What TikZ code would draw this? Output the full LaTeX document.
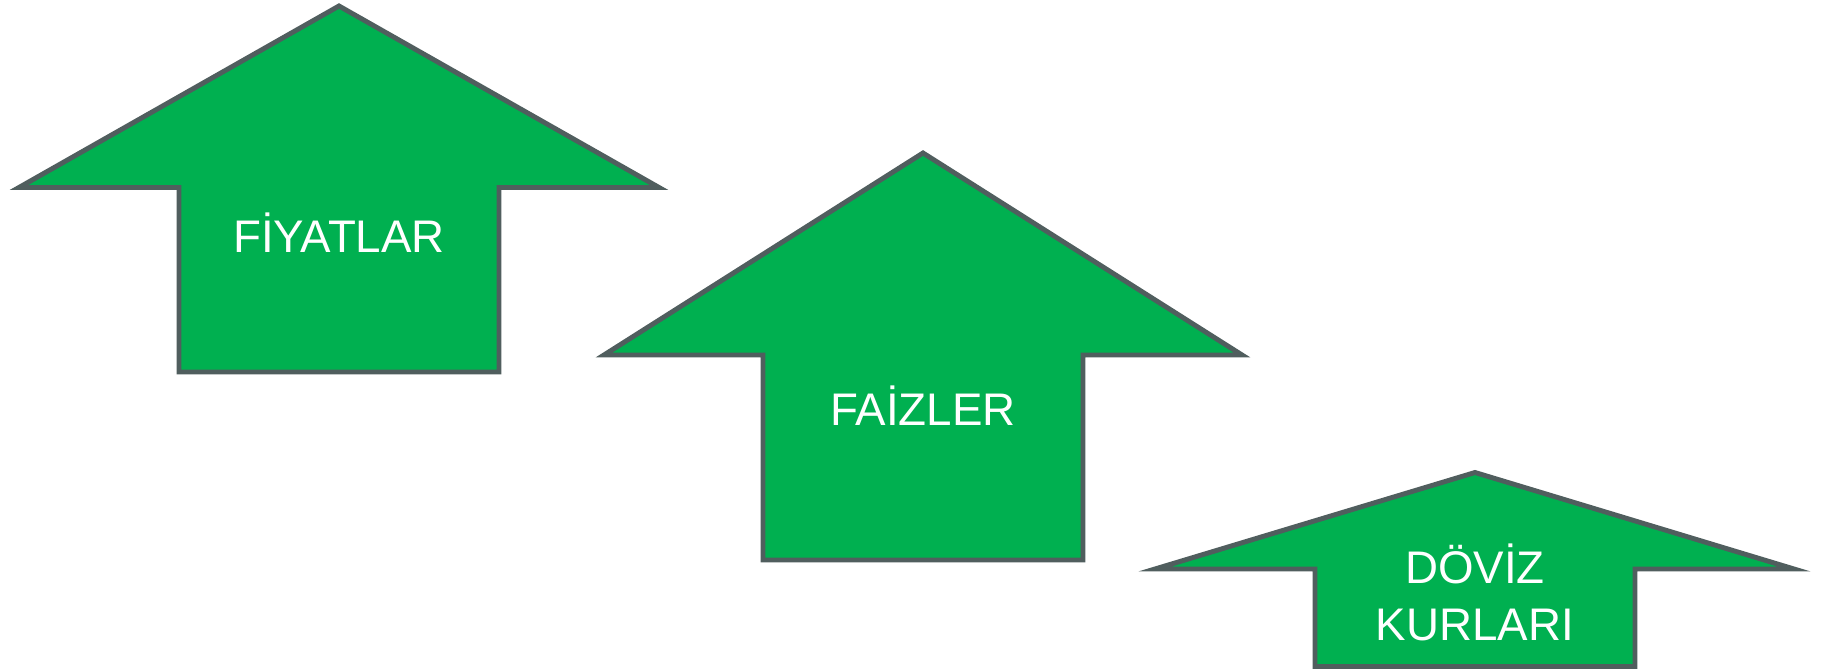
\documentclass[tikz,border=0pt]{standalone}
\usepackage{fontspec}
\setmainfont{Liberation Sans}
\usepackage{tikz}
\usetikzlibrary{positioning}
\definecolor{arrow_green}{RGB}{0, 176, 80}
\definecolor{edge_grey}{RGB}{80, 94, 94}

\begin{document}
\begin{tikzpicture}[x=0.025cm, y=-0.025cm,
      uparrow/.style={draw=edge_grey, line width=3.5pt, fill=arrow_green, line join=miter},
      lbl/.style={text=white, font=\fontsize{32.5}{40.5}\selectfont, inner sep=0pt, anchor=base}]
    \useasboundingbox (0,0) rectangle (1824,670);
    \draw[uparrow] (339,6) -- (659,187.5) -- (499,187.5) -- (499,372) -- (179,372) -- (179,187.5) -- (19,187.5) -- cycle;
    \draw[uparrow] (923,153) -- (1242,355) -- (1083,355) -- (1083,560) -- (763,560) -- (763,355) -- (604,355) -- cycle;
    \draw[uparrow] (1475,472.5) -- (1794,569) -- (1635,569) -- (1635,666.5) -- (1315,666.5) -- (1315,569) -- (1155,569) -- cycle;
    \node[lbl] (fiyat)  at (339,252)  {FİYATLAR};
    \node[lbl] (faiz)   at (923,425)  {FAİZLER};
    \node[lbl] (doviz)  at (1475,583) {DÖVİZ};
    \node[lbl] (kurlar) at (1475,640) {KURLARI};
\end{tikzpicture}
\end{document}
